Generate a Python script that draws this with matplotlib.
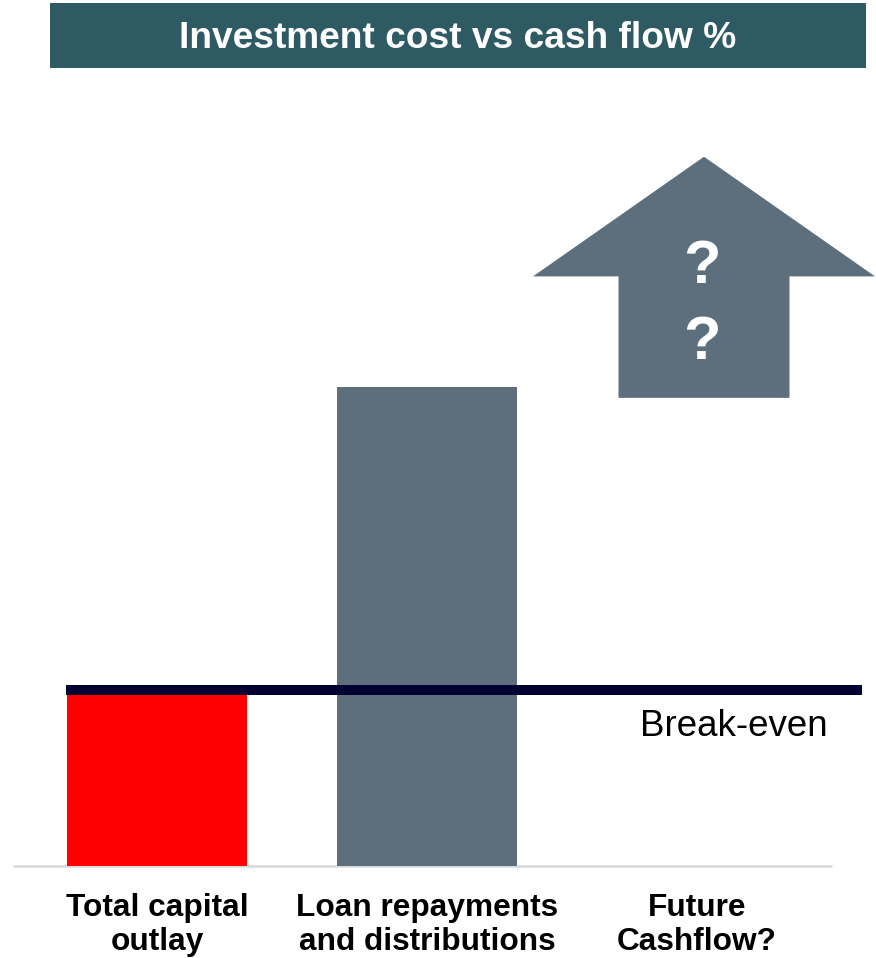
import matplotlib
matplotlib.use("Agg")
import matplotlib.pyplot as plt
from matplotlib.patches import Polygon, Rectangle

plt.rcParams['font.family'] = ['Liberation Sans', 'DejaVu Sans']

# ---- data ----
title = "Investment cost vs cash flow %"
categories = ["Total capital\noutlay", "Loan repayments\nand distributions", "Future\nCashflow?"]
bar_values = [100, 272]          # % of capital returned
bar_colors = ["#ff0000", "#5d6f7d"]
break_even = 100
break_even_label = "Break-even"
# future arrow (values in %): shaft bottom, head base, tip
arrow_shaft_bottom = 266
arrow_head_base = 335
arrow_tip = 403
arrow_label = "?\n?"

W, H = 876, 958
fig = plt.figure(figsize=(W / 100, H / 100), dpi=100)

# axes geometry in pixels
ax_left_px, ax_right_px = 13, 876
ax_bottom_px, ax_top_px = 866, 100
ax = fig.add_axes([ax_left_px / W, 1 - ax_bottom_px / H,
                   (ax_right_px - ax_left_px) / W, (ax_bottom_px - ax_top_px) / H])
px_per_x = 270.0
x0_px = 157.0
ax.set_xlim((ax_left_px - x0_px) / px_per_x, (ax_right_px - x0_px) / px_per_x)
px_per_y = 1.76
ax.set_ylim(0, (ax_bottom_px - ax_top_px) / px_per_y)
ax.axis('off')

bar_w = 180 / px_per_x
xs = list(range(len(categories)))
ax.bar(xs[:len(bar_values)], bar_values, width=bar_w, color=bar_colors, zorder=2)

# baseline
ax.plot([(13 - x0_px) / px_per_x, (832 - x0_px) / px_per_x], [0, 0],
        color="#d9d9d9", lw=1.8, zorder=1, solid_capstyle='butt', clip_on=False)

# break-even line
ax.plot([(66 - x0_px) / px_per_x, (862 - x0_px) / px_per_x], [break_even, break_even],
        color="#000033", lw=7.2, zorder=3, solid_capstyle='butt', clip_on=False)
ax.text((828 - x0_px) / px_per_x, break_even - 20.5, break_even_label, ha='right', va='center',
        fontsize=26.5, color='black')

# arrow for future cashflow
cx = xs[2] + 7 / px_per_x
shaft_hw = 85.5 / px_per_x
head_hw = 171 / px_per_x
pts = [(cx - shaft_hw, arrow_shaft_bottom), (cx + shaft_hw, arrow_shaft_bottom),
       (cx + shaft_hw, arrow_head_base), (cx + head_hw, arrow_head_base),
       (cx, arrow_tip), (cx - head_hw, arrow_head_base),
       (cx - shaft_hw, arrow_head_base)]
ax.add_patch(Polygon(pts, closed=True, facecolor="#5d6f7d", edgecolor='none',
                     zorder=2, clip_on=False))
ax.text(cx - 2 / px_per_x, (arrow_shaft_bottom + arrow_tip) / 2 - 16, arrow_label,
        ha='center', va='center', fontsize=44, fontweight='bold', color='white',
        linespacing=1.45, zorder=4)

# category labels
for x, lab in zip(xs, categories):
    ax.text(x, -15.5, lab, ha='center', va='top', fontsize=22.8, fontweight='bold',
            color='black', linespacing=1.17, clip_on=False)

# title box
fig.patches.append(Rectangle((50 / W, 1 - 68 / H), (866 - 50) / W, (68 - 3) / H,
                             transform=fig.transFigure, facecolor="#2e5a63",
                             edgecolor='none', zorder=0))
fig.text(458 / W, 1 - 39 / H, title, ha='center', va='center', fontsize=26.7,
         fontweight='bold', color='white')

fig.savefig("out.png", dpi=100)
